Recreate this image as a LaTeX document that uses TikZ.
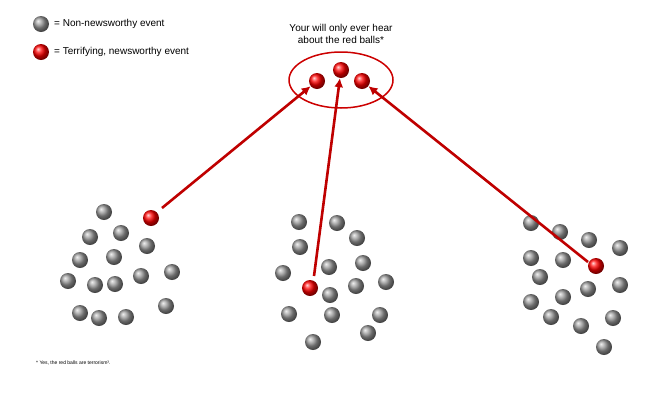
\documentclass[tikz,border=0pt]{standalone}
\usepackage{fontspec}
\setmainfont{Liberation Sans}
\usetikzlibrary{arrows.meta,shapes.geometric}
\begin{document}
\begin{tikzpicture}[x=1pt,y=-1pt,
  gb/.style={circle,minimum size=16pt,inner sep=0pt,shade,ball color=gray!80},
  rb/.style={circle,minimum size=16pt,inner sep=0pt,shade,ball color=red},
  arr/.style={draw=red!75!black,line width=2.6pt,-{Latex[length=9pt,width=9pt]}},
  lbl/.style={font=\fontsize{10}{12}\selectfont,inner sep=0pt}]
\path[use as bounding box] (0,0) rectangle (660,408);
% legend
\node[gb] (lg) at (41,24) {};
\node[lbl,anchor=west] (lgt) at (54,24) {= Non-newsworthy event};
\node[rb] (lr) at (41,52) {};
\node[lbl,anchor=west] (lrt) at (54,52) {= Terrifying, newsworthy event};
% top
\node[lbl,align=center] (title) at (341,34) {Your will only ever hear\\about the red balls*};
\node[draw=red!80!black,line width=1.5pt,ellipse,minimum width=104pt,minimum height=56pt] (ell) at (341,80) {};
\node[rb] (t1) at (317,81) {};
\node[rb] (t2) at (341,70) {};
\node[rb] (t3) at (362,81) {};
% left cluster
\foreach \p [count=\i] in {(104,212),(90,237),(121,233),(147,246),(80,260),(114,257),(68,281),(95,285),(115,284),(141,276),(172,272),(166,306),(80,313),(99,318),(126,317)}
  \node[gb] (l\i) at \p {};
\node[rb] (lred) at (151,218) {};
% middle
\foreach \p [count=\i] in {(299,222),(337,223),(357,238),(300,247),(283,273),(329,267),(363,263),(330,295),(356,286),(386,282),(289,314),(332,315),(380,315),(368,333),(313,342)}
  \node[gb] (m\i) at \p {};
\node[rb] (mred) at (310,288) {};
% right
\foreach \p [count=\i] in {(531,223),(560,232),(589,240),(620,248),(531,258),(563,260),(540,277),(588,289),(620,285),(531,302),(563,297),(551,317),(581,326),(613,318),(604,347)}
  \node[gb] (r\i) at \p {};
% arrows
\coordinate (a1) at (162,208);
\coordinate (a2) at (314,276);
\coordinate (a3) at (588,262);
\draw[arr] (a1) -- (t1);
\draw[arr] (a2) -- (t2);
\draw[arr] (a3) -- (t3);
\node[rb] (rred) at (596,266) {};
\node[anchor=west,inner sep=0pt,font=\fontsize{5}{6}\selectfont] (fn) at (36,363) {* Yes, the red balls are terrorism³.};
\end{tikzpicture}
\end{document}
